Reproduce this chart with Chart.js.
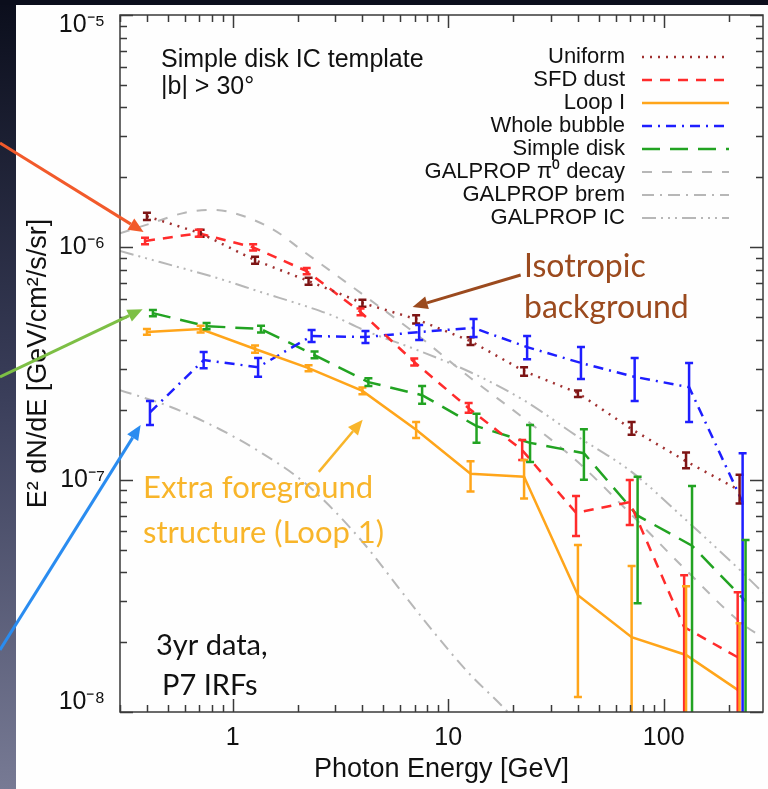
<!DOCTYPE html>
<html>
<head>
<meta charset="utf-8">
<script src="https://cdn.jsdelivr.net/npm/chart.js@4.4.1/dist/chart.umd.min.js"></script>
<style>
  html, body { margin: 0; padding: 0; background: #fff; }
  canvas { display: block; }
</style>
</head>
<body>
<canvas id="chart" width="768" height="789"></canvas>
<script>
// photon energy bins [GeV]
const energy = [0.40, 0.71, 1.27, 2.25, 4.0, 7.1, 12.7, 22.5, 40, 71, 127, 225];

// template spectra E^2 dN/dE [GeV/cm^2/s/sr], with 1 sigma range
const uniform   = [1.36e-6, 1.15e-6, 8.8e-7, 7.16e-7, 5.76e-7, 4.91e-7, 3.95e-7, 2.93e-7, 2.36e-7, 1.65e-7, 1.20e-7, 9.0e-8];
const uniformLo = [1.31e-6, 1.11e-6, 8.5e-7, 6.9e-7, 5.55e-7, 4.7e-7, 3.8e-7, 2.8e-7, 2.27e-7, 1.56e-7, 1.12e-7, 7.9e-8];
const uniformHi = [1.41e-6, 1.19e-6, 9.1e-7, 7.4e-7, 5.95e-7, 5.1e-7, 4.1e-7, 3.05e-7, 2.42e-7, 1.77e-7, 1.31e-7, 1.05e-7];

const sfdDust   = [1.065e-6, 1.15e-6, 1.0e-6, 7.9e-7, 5.27e-7, 3.21e-7, 2.03e-7, 1.34e-7, 7.2e-8, 8.0e-8, 2.32e-8, 1.72e-8];
const sfdDustLo = [1.03e-6, 1.11e-6, 9.7e-7, 7.65e-7, 5.1e-7, 3.1e-7, 1.94e-7, 1.215e-7, 5.72e-8, 6.38e-8, 1e-9, 1e-9];
const sfdDustHi = [1.10e-6, 1.19e-6, 1.03e-6, 8.15e-7, 5.45e-7, 3.32e-7, 2.14e-7, 1.48e-7, 8.5e-8, 9.96e-8, 3.88e-8, 3.28e-8];

const loopI   = [4.32e-7, 4.45e-7, 3.65e-7, 3.02e-7, 2.41e-7, 1.64e-7, 1.06e-7, 1.03e-7, 3.18e-8, 2.1e-8, 1.76e-8, 1.23e-8];
const loopILo = [4.2e-7, 4.3e-7, 3.52e-7, 2.93e-7, 2.33e-7, 1.51e-7, 8.9e-8, 8.3e-8, 1.16e-8, 1e-9, 1e-9, 1e-9];
const loopIHi = [4.45e-7, 4.6e-7, 3.78e-7, 3.11e-7, 2.49e-7, 1.77e-7, 1.20e-7, 1.215e-7, 5.23e-8, 4.25e-8, 3.48e-8, 2.41e-8];

const bubble   = [1.95e-7, 3.27e-7, 3.05e-7, 4.15e-7, 4.11e-7, 4.32e-7, 4.50e-7, 3.72e-7, 3.18e-7, 2.77e-7, 2.50e-7, 8.0e-8];
const bubbleLo = [1.72e-7, 3.02e-7, 2.77e-7, 3.91e-7, 3.87e-7, 3.99e-7, 4.11e-7, 3.30e-7, 2.71e-7, 2.18e-7, 1.77e-7, 1e-9];
const bubbleHi = [2.18e-7, 3.54e-7, 3.34e-7, 4.41e-7, 4.36e-7, 4.63e-7, 4.91e-7, 4.15e-7, 3.72e-7, 3.34e-7, 3.18e-7, 1.30e-7];

const simpleDisk   = [5.21e-7, 4.58e-7, 4.45e-7, 3.44e-7, 2.63e-7, 2.31e-7, 1.70e-7, 1.44e-7, 1.30e-7, 7.0e-8, 5.2e-8, 3.0e-8];
const simpleDiskLo = [5.05e-7, 4.44e-7, 4.3e-7, 3.33e-7, 2.53e-7, 2.12e-7, 1.44e-7, 1.19e-7, 1.0e-7, 2.94e-8, 1e-9, 1e-9];
const simpleDiskHi = [5.38e-7, 4.72e-7, 4.6e-7, 3.56e-7, 2.73e-7, 2.53e-7, 1.92e-7, 1.72e-7, 1.65e-7, 1.03e-7, 9.4e-8, 5.5e-8];

// GALPROP model curves
const pi0Energy = [0.3, 0.42, 0.6, 0.8, 1.0, 1.55, 2.1, 2.8, 4.05, 7.2, 12.7, 22.4, 40, 71, 127, 226, 290];
const pi0Decay  = [1.15e-6, 1.27e-6, 1.41e-6, 1.45e-6, 1.41e-6, 1.19e-6, 9.7e-7, 8.0e-7, 6.23e-7, 4.19e-7, 2.74e-7, 1.84e-7, 1.19e-7, 7.05e-8, 4.08e-8, 2.44e-8, 2.08e-8];

const bremEnergy = [0.3, 0.52, 0.88, 1.35, 2.07, 2.94, 4.23, 6.0, 8.56, 12.3, 18.9, 22];
const brem       = [2.43e-7, 2.05e-7, 1.64e-7, 1.31e-7, 1.0e-7, 7.4e-8, 5.08e-8, 3.35e-8, 2.21e-8, 1.49e-8, 1.0e-8, 8.5e-9];

const icEnergy = [0.3, 0.46, 0.88, 1.35, 2.25, 2.94, 4.05, 7.2, 12.7, 22.4, 40, 71, 127, 226, 290];
const icModel  = [9.64e-7, 8.64e-7, 7.3e-7, 6.42e-7, 5.53e-7, 5.06e-7, 4.41e-7, 3.61e-7, 2.90e-7, 2.20e-7, 1.53e-7, 1.08e-7, 6.7e-8, 4.08e-8, 3.25e-8];

const xTickLabels = ['1', '10', '100'];
// first and last y labels sit inside the frame, like the IDL plot
const yTickLabels = [['10⁻⁸', ''], '10⁻⁷', '10⁻⁶', ['', '10⁻⁵']];

const sans = '"Liberation Sans", Arial, Helvetica, sans-serif';
const humanist = 'Lato, "Open Sans", sans-serif';

function points(xs, ys, dodge = 1) {
    return xs.map((e, i) => ({ x: e * dodge, y: ys[i] }));
}

const gray = '#b7b7b7';
const datasets = [
    { label: 'Uniform', data: points(energy, uniform), errLo: uniformLo, errHi: uniformHi,
      borderColor: '#a03030', errColor: '#7d1414', borderDash: [2, 6], borderWidth: 2.5 },
    { label: 'SFD dust', data: points(energy, sfdDust, 0.98), errLo: sfdDustLo, errHi: sfdDustHi,
      borderColor: '#ff2b2b', borderDash: [10, 8], borderWidth: 2.5 },
    { label: 'Loop I', data: points(energy, loopI), errLo: loopILo, errHi: loopIHi,
      borderColor: '#ffa51a', borderDash: [], borderWidth: 2.5 },
    { label: 'Whole bubble', data: points(energy, bubble, 1.033), errLo: bubbleLo, errHi: bubbleHi,
      borderColor: '#1e1eff', borderDash: [10, 6, 2, 6], borderWidth: 2.5 },
    { label: 'Simple disk', data: points(energy, simpleDisk, 1.066), errLo: simpleDiskLo, errHi: simpleDiskHi,
      borderColor: '#22a322', borderDash: [18, 10], borderWidth: 2.5 },
    { label: 'GALPROP π⁰ decay', data: points(pi0Energy, pi0Decay),
      borderColor: gray, borderDash: [10, 10], borderWidth: 2, cubicInterpolationMode: 'monotone' },
    { label: 'GALPROP brem', data: points(bremEnergy, brem),
      borderColor: gray, borderDash: [12, 6, 2, 6], borderWidth: 2, cubicInterpolationMode: 'monotone' },
    { label: 'GALPROP IC', data: points(icEnergy, icModel),
      borderColor: gray, borderDash: [14, 5, 2, 5, 2, 5, 2, 5], borderWidth: 2, cubicInterpolationMode: 'monotone' },
].map(ds => Object.assign({ pointRadius: 0, fill: false, tension: 0 }, ds));

// slide background: dark strip on the left and top
const backdrop = {
    id: 'backdrop',
    beforeDraw(chart) {
        const { ctx, width, height } = chart;
        ctx.save();
        ctx.fillStyle = '#fefefe';
        ctx.fillRect(0, 0, width, height);
        const g = ctx.createLinearGradient(0, 0, 0, height);
        g.addColorStop(0, '#0b0e1c');
        g.addColorStop(0.5, '#3a3e5a');
        g.addColorStop(1, '#777a94');
        ctx.fillStyle = g;
        ctx.fillRect(0, 0, 16, height);
        ctx.fillStyle = '#0b0e1c';
        ctx.fillRect(0, 0, width, 5);
        ctx.restore();
    }
};

const errorBars = {
    id: 'errorBars',
    afterDatasetsDraw(chart) {
        const { ctx, chartArea: a, scales: { x, y } } = chart;
        ctx.save();
        ctx.beginPath();
        ctx.rect(a.left, a.top, a.right - a.left, a.bottom - a.top);
        ctx.clip();
        ctx.setLineDash([]);
        ctx.lineWidth = 2.5;
        chart.data.datasets.forEach(ds => {
            if (!ds.errLo) return;
            ctx.strokeStyle = ds.errColor || ds.borderColor;
            ds.data.forEach((p, i) => {
                const px = x.getPixelForValue(p.x);
                const lo = y.getPixelForValue(ds.errLo[i]);
                const hi = y.getPixelForValue(ds.errHi[i]);
                ctx.beginPath();
                ctx.moveTo(px, lo); ctx.lineTo(px, hi);
                ctx.moveTo(px - 4, hi); ctx.lineTo(px + 4, hi);
                ctx.moveTo(px - 4, lo); ctx.lineTo(px + 4, lo);
                ctx.stroke();
            });
        });
        ctx.restore();
    }
};

// IDL style frame with inward ticks on all four sides
const frame = {
    id: 'frame',
    afterDraw(chart) {
        const { ctx, chartArea: a, scales: { x, y } } = chart;
        ctx.save();
        ctx.strokeStyle = '#3a3a3a';
        ctx.lineWidth = 1.5;
        ctx.setLineDash([]);
        ctx.strokeRect(a.left, a.top, a.right - a.left, a.bottom - a.top);
        ctx.beginPath();
        for (let d = -1; d <= 2; d++) {
            for (let m = 1; m <= 9; m++) {
                const v = m * Math.pow(10, d);
                if (v < x.min || v > x.max) continue;
                const px = Math.round(x.getPixelForValue(v)) + 0.5;
                const len = m === 1 ? 13 : 7;
                ctx.moveTo(px, a.bottom); ctx.lineTo(px, a.bottom - len);
                ctx.moveTo(px, a.top); ctx.lineTo(px, a.top + len);
            }
        }
        for (let d = -8; d <= -5; d++) {
            for (let m = 1; m <= 9; m++) {
                const v = m * Math.pow(10, d);
                if (v < y.min * 0.999 || v > y.max * 1.001) continue;
                const py = Math.round(y.getPixelForValue(v)) + 0.5;
                const len = m === 1 ? 13 : 7;
                ctx.moveTo(a.left, py); ctx.lineTo(a.left + len, py);
                ctx.moveTo(a.right, py); ctx.lineTo(a.right - len, py);
            }
        }
        ctx.stroke();
        ctx.restore();
    }
};

const legendBox = {
    id: 'legendBox',
    afterDraw(chart) {
        const { ctx } = chart;
        ctx.save();
        ctx.font = '22px ' + sans;
        ctx.textAlign = 'right';
        ctx.textBaseline = 'middle';
        chart.data.datasets.forEach((ds, i) => {
            const yy = 57 + i * 23;
            ctx.fillStyle = '#111';
            ctx.fillText(ds.label, 625, yy);
            ctx.strokeStyle = ds.borderColor;
            ctx.lineWidth = ds.borderWidth;
            ctx.setLineDash(ds.borderDash);
            ctx.beginPath();
            ctx.moveTo(642, yy); ctx.lineTo(729, yy);
            ctx.stroke();
        });
        ctx.restore();
    }
};

function arrow(ctx, x0, y0, x1, y1, color, w) {
    const ang = Math.atan2(y1 - y0, x1 - x0);
    const L = 15, W = 6.5;
    const bx = x1 - L * Math.cos(ang), by = y1 - L * Math.sin(ang);
    ctx.strokeStyle = color;
    ctx.fillStyle = color;
    ctx.lineWidth = w;
    ctx.setLineDash([]);
    ctx.beginPath();
    ctx.moveTo(x0, y0); ctx.lineTo(bx, by);
    ctx.stroke();
    ctx.beginPath();
    ctx.moveTo(x1, y1);
    ctx.lineTo(bx + W * Math.sin(ang), by - W * Math.cos(ang));
    ctx.lineTo(bx - W * Math.sin(ang), by + W * Math.cos(ang));
    ctx.closePath();
    ctx.fill();
}

const notes = {
    id: 'notes',
    afterDraw(chart) {
        const { ctx, scales: { x, y } } = chart;
        const px = v => x.getPixelForValue(v), py = v => y.getPixelForValue(v);
        ctx.save();
        ctx.textAlign = 'left';
        ctx.textBaseline = 'alphabetic';

        ctx.fillStyle = '#111';
        ctx.font = '25px ' + sans;
        ctx.fillText('Simple disk IC template', 161, 67);
        ctx.fillText('|b| > 30°', 161, 94);

        ctx.fillStyle = '#9b4a1e';
        ctx.font = '32px ' + humanist;
        ctx.fillText('Isotropic', 524, 277);
        ctx.fillText('background', 524, 318);

        ctx.fillStyle = '#f8b52a';
        ctx.font = '31px ' + humanist;
        ctx.fillText('Extra foreground', 143, 498);
        ctx.fillText('structure (Loop 1)', 143, 543);

        ctx.fillStyle = '#111';
        ctx.font = '29px ' + humanist;
        ctx.fillText('3yr data,', 156, 655);
        ctx.fillText('P7 IRFs', 162, 695);

        arrow(ctx, px(21.7), py(7.6e-7), px(6.84), py(5.53e-7), '#9b4a1e', 3);
        arrow(ctx, px(2.51), py(1.08e-7), px(4.01), py(1.81e-7), '#f8b52a', 2.5);
        arrow(ctx, px(0.0832), py(2.81e-6), px(0.386), py(1.164e-6), '#f25a2b', 3);
        arrow(ctx, px(0.0832), py(2.77e-7), px(0.382), py(5.42e-7), '#7dbf45', 3);
        arrow(ctx, px(0.0832), py(1.85e-8), px(0.374), py(1.72e-7), '#2a8cf0', 3);
        ctx.restore();
    }
};

function isDecade(v) {
    const l = Math.log10(v);
    return Math.abs(l - Math.round(l)) < 1e-6;
}

// keep the plot box fixed: no label overhang padding
function noOverhang(s) {
    s.paddingLeft = 0;
    s.paddingRight = 0;
    s.paddingTop = 0;
    s.paddingBottom = 0;
}

new Chart(document.getElementById('chart'), {
    type: 'line',
    data: { datasets },
    options: {
        responsive: false,
        animation: false,
        devicePixelRatio: 1,
        layout: { padding: { top: 15, right: 5, left: 0, bottom: 0 } },
        plugins: { legend: { display: false }, tooltip: { enabled: false } },
        scales: {
            x: {
                type: 'logarithmic',
                min: 0.3,
                max: 289,
                grid: { display: false, drawTicks: false },
                border: { display: false },
                ticks: {
                    autoSkip: false,
                    maxRotation: 0,
                    padding: 11,
                    color: '#111',
                    font: { family: sans, size: 25 },
                    callback: v => (isDecade(v) && v >= 1 ? xTickLabels[Math.round(Math.log10(v))] : '')
                },
                title: {
                    display: true,
                    text: 'Photon Energy [GeV]',
                    color: '#111',
                    font: { family: sans, size: 27 },
                    padding: { top: 4, bottom: 3 }
                },
                afterFit: s => { s.height = 77; noOverhang(s); }
            },
            y: {
                type: 'logarithmic',
                min: 1e-8,
                max: 1e-5,
                grid: { display: false, drawTicks: false },
                border: { display: false },
                ticks: {
                    autoSkip: false,
                    padding: 15,
                    color: '#111',
                    font: { family: sans, size: 25, lineHeight: 0.8 },
                    callback: v => (isDecade(v) ? yTickLabels[Math.round(Math.log10(v)) + 8] : '')
                },
                title: {
                    display: true,
                    text: 'E² dN/dE [GeV/cm²/s/sr]',
                    color: '#111',
                    font: { family: sans, size: 27 },
                    padding: { top: 22, bottom: 0 }
                },
                afterFit: s => { s.width = 120; noOverhang(s); }
            }
        }
    },
    plugins: [backdrop, errorBars, frame, legendBox, notes]
});
</script>
</body>
</html>
